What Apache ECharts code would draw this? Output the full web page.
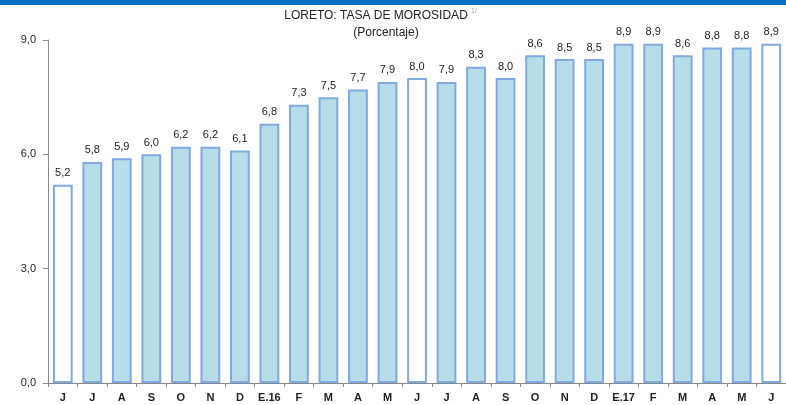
<!DOCTYPE html>
<html><head><meta charset="utf-8">
<script src="https://cdn.jsdelivr.net/npm/echarts@6/dist/echarts.min.js"></script>
<style>html,body{margin:0;padding:0;background:#fff}#c{width:786px;height:405px}</style>
</head><body><div id="c"></div>
<script>
const categories = ['J','J','A','S','O','N','D','E.16','F','M','A','M','J','J','A','S','O','N','D','E.17','F','M','A','M','J'];
const values = [5.2,5.8,5.9,6.0,6.2,6.2,6.1,6.8,7.3,7.5,7.7,7.9,8.0,7.9,8.3,8.0,8.6,8.5,8.5,8.9,8.9,8.6,8.8,8.8,8.9];
const whiteIdx = [0,12,24];
const yTicks = [0,3,6,9];

const font = '"Liberation Sans",Arial,sans-serif';
const chart = echarts.init(document.getElementById('c'));
chart.setOption({
  animation:false,
  graphic:[
    {type:'rect',shape:{x:0,y:0,width:786,height:5},style:{fill:'#0070c0'}},
    {type:'text',x:376,y:10,style:{text:'LORETO: TASA DE MOROSIDAD',align:'center',font:'12px '+font,fill:'#222',letterSpacing:0.3}},
    {type:'text',x:471,y:8,style:{text:'1/',font:'7px '+font,fill:'#999'}},
    {type:'text',x:386,y:27,style:{text:'(Porcentaje)',align:'center',font:'12px '+font,fill:'#222'}}
  ],
  grid:{left:48,right:-8,top:40,bottom:22,containLabel:false},
  xAxis:{type:'category',data:categories,
    axisLine:{show:true,lineStyle:{color:'#888',width:1}},
    axisTick:{show:true,alignWithLabel:false,length:4,lineStyle:{color:'#888'}},
    axisLabel:{color:'#222',fontFamily:font,fontSize:11,fontWeight:'bold',margin:9,interval:0}},
  yAxis:{type:'value',min:0,max:9,interval:3,
    splitLine:{show:false},
    axisLine:{show:true,lineStyle:{color:'#888',width:1}},
    axisTick:{show:true,length:5,lineStyle:{color:'#888'}},
    axisLabel:{color:'#222',fontFamily:font,fontSize:11,margin:12,
      formatter:v=>yTicks.includes(v)?v.toFixed(1).replace('.',','):''}},
  series:[{type:'bar',barCategoryGap:'33%',
    data:values.map((v,i)=>({value:v,itemStyle:{color:whiteIdx.includes(i)?'#ffffff':'#b7dde8',borderColor:'#7fa9e2',borderWidth:2}})),
    label:{show:true,position:'top',distance:6,color:'#222',fontFamily:font,fontSize:11,
      formatter:p=>p.value.toFixed(1).replace('.',',')}}]
});
</script></body></html>
